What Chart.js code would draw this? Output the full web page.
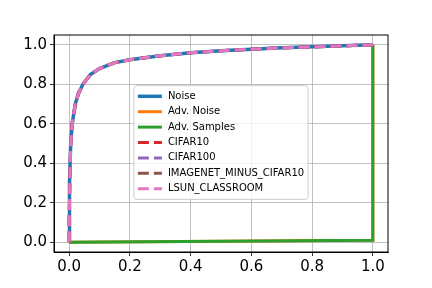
<!DOCTYPE html>
<html lang="en">
<head>
    <meta charset="UTF-8">
    <title>ROC curves</title>
    <script src="https://cdn.jsdelivr.net/npm/chart.js"></script>
    <style>
        body { margin: 0; background: #fff; }
    </style>
</head>
<body>
    <canvas id="rocChart" width="432" height="288"></canvas>

    <script>
        // false positive rate shared by the OOD curves
        const fpr = [0, 0, 0.002, 0.005, 0.01, 0.02, 0.03, 0.045, 0.07, 0.1, 0.15, 0.2, 0.3, 0.4, 0.5, 0.6, 0.7, 0.8, 0.9, 1.0];
        const tprNoise     = [0, 0.1, 0.3, 0.5, 0.6, 0.7, 0.75, 0.8, 0.85, 0.88, 0.91, 0.925, 0.945, 0.96, 0.97, 0.978, 0.985, 0.99, 0.995, 1.0];
        const tprCifar10   = [0, 0.1, 0.3, 0.5, 0.61, 0.7, 0.75, 0.8, 0.85, 0.88, 0.91, 0.925, 0.945, 0.96, 0.97, 0.978, 0.985, 0.99, 0.995, 1.0];
        const tprCifar100  = [0, 0.1, 0.31, 0.5, 0.6, 0.7, 0.76, 0.8, 0.85, 0.88, 0.91, 0.925, 0.945, 0.96, 0.97, 0.978, 0.985, 0.99, 0.995, 1.0];
        const tprImagenet  = [0, 0.1, 0.3, 0.5, 0.6, 0.69, 0.75, 0.8, 0.85, 0.88, 0.91, 0.925, 0.945, 0.96, 0.97, 0.978, 0.985, 0.99, 0.995, 1.0];
        const tprLsun      = [0, 0.1, 0.3, 0.5, 0.6, 0.7, 0.75, 0.8, 0.85, 0.88, 0.91, 0.925, 0.945, 0.96, 0.97, 0.978, 0.985, 0.99, 0.995, 1.0];
        // adversarial curves
        const advFpr = [0, 1, 1];
        const tprAdvNoise   = [0, 0.01, 1.0];
        const tprAdvSamples = [0, 0.01, 1.0];

        const tickValues = [0, 0.2, 0.4, 0.6, 0.8, 1.0];

        const toPoints = (xs, ys) => xs.map((x, i) => ({x: x, y: ys[i]}));

        const series = [
            {label: 'Noise',                 xs: fpr,    ys: tprNoise,      color: '#1f77b4', width: 3.5, dash: []},
            {label: 'Adv. Noise',            xs: advFpr, ys: tprAdvNoise,   color: '#ff7f0e', width: 3,   dash: []},
            {label: 'Adv. Samples',          xs: advFpr, ys: tprAdvSamples, color: '#2ca02c', width: 3,   dash: []},
            {label: 'CIFAR10',               xs: fpr,    ys: tprCifar10,    color: '#d62728', width: 3,   dash: [11, 5]},
            {label: 'CIFAR100',              xs: fpr,    ys: tprCifar100,   color: '#9467bd', width: 3,   dash: [11, 5]},
            {label: 'IMAGENET_MINUS_CIFAR10', xs: fpr,   ys: tprImagenet,   color: '#8c564b', width: 3,   dash: [11, 5]},
            {label: 'LSUN_CLASSROOM',        xs: fpr,    ys: tprLsun,       color: '#e377c2', width: 3,   dash: [11, 5]}
        ];

        const frame = {
            id: 'frame',
            afterDraw(chart) {
                const ctx = chart.ctx, a = chart.chartArea;
                ctx.save();
                ctx.strokeStyle = '#000';
                ctx.lineWidth = 1;
                ctx.strokeRect(a.left, a.top, a.right - a.left, a.bottom - a.top);
                ctx.restore();
            }
        };

        // matplotlib-like legend placed in the middle of the plot
        const centerLegend = {
            id: 'centerLegend',
            afterDraw(chart) {
                const ctx = chart.ctx, a = chart.chartArea;
                ctx.save();
                ctx.font = '10px "DejaVu Sans"';
                const rowH = 15.4, handle = 24, pad = 4, gap = 6;
                const textW = Math.max(...series.map(s => ctx.measureText(s.label).width));
                const w = pad + handle + gap + textW + pad;
                const h = rowH * series.length + 6;
                const x0 = (a.left + a.right) / 2 - w / 2;
                const y0 = (a.top + a.bottom) / 2 - h / 2 - 1;
                ctx.beginPath();
                ctx.roundRect(x0, y0, w, h, 3);
                ctx.fillStyle = 'rgba(255,255,255,0.8)';
                ctx.fill();
                ctx.strokeStyle = '#cccccc';
                ctx.lineWidth = 1;
                ctx.stroke();
                series.forEach((s, i) => {
                    const y = y0 + 3 + rowH * (i + 0.5);
                    ctx.beginPath();
                    ctx.setLineDash(s.dash);
                    ctx.strokeStyle = s.color;
                    ctx.lineWidth = s.width;
                    ctx.moveTo(x0 + pad, y);
                    ctx.lineTo(x0 + pad + handle, y);
                    ctx.stroke();
                    ctx.setLineDash([]);
                    ctx.fillStyle = '#000';
                    ctx.textBaseline = 'middle';
                    ctx.fillText(s.label, x0 + pad + handle + gap, y);
                });
                ctx.restore();
            }
        };

        const axisFont = {family: 'DejaVu Sans', size: 15};

        const ctx = document.getElementById('rocChart').getContext('2d');
        new Chart(ctx, {
            type: 'line',
            data: {
                datasets: series.map((s, i) => ({
                    label: s.label,
                    data: toPoints(s.xs, s.ys),
                    borderColor: s.color,
                    borderWidth: s.width,
                    borderDash: s.dash,
                    pointRadius: 0,
                    tension: 0,
                    fill: false,
                    order: series.length - i
                }))
            },
            options: {
                responsive: false,
                animation: false,
                layout: {padding: {top: 35, right: 44, left: 0, bottom: 0}},
                plugins: {
                    legend: {display: false},
                    tooltip: {enabled: false}
                },
                scales: {
                    x: {
                        type: 'linear',
                        min: -0.05,
                        max: 1.05,
                        afterBuildTicks: s => { s.ticks = tickValues.map(v => ({value: v})); },
                        afterFit: s => { s.height = 36; },
                        ticks: {
                            font: axisFont,
                            color: '#000',
                            padding: 2,
                            maxRotation: 0,
                            callback: v => v.toFixed(1)
                        },
                        grid: {color: '#b0b0b0', lineWidth: 0.8, tickColor: '#000', tickLength: 4},
                        border: {color: '#000', width: 1}
                    },
                    y: {
                        type: 'linear',
                        min: -0.05,
                        max: 1.05,
                        afterBuildTicks: s => { s.ticks = tickValues.map(v => ({value: v})); },
                        afterFit: s => { s.width = 54; },
                        ticks: {
                            font: axisFont,
                            color: '#000',
                            padding: 3,
                            callback: v => v.toFixed(1)
                        },
                        grid: {color: '#b0b0b0', lineWidth: 0.8, tickColor: '#000', tickLength: 4},
                        border: {color: '#000', width: 1}
                    }
                }
            },
            plugins: [frame, centerLegend]
        });
    </script>
</body>
</html>
